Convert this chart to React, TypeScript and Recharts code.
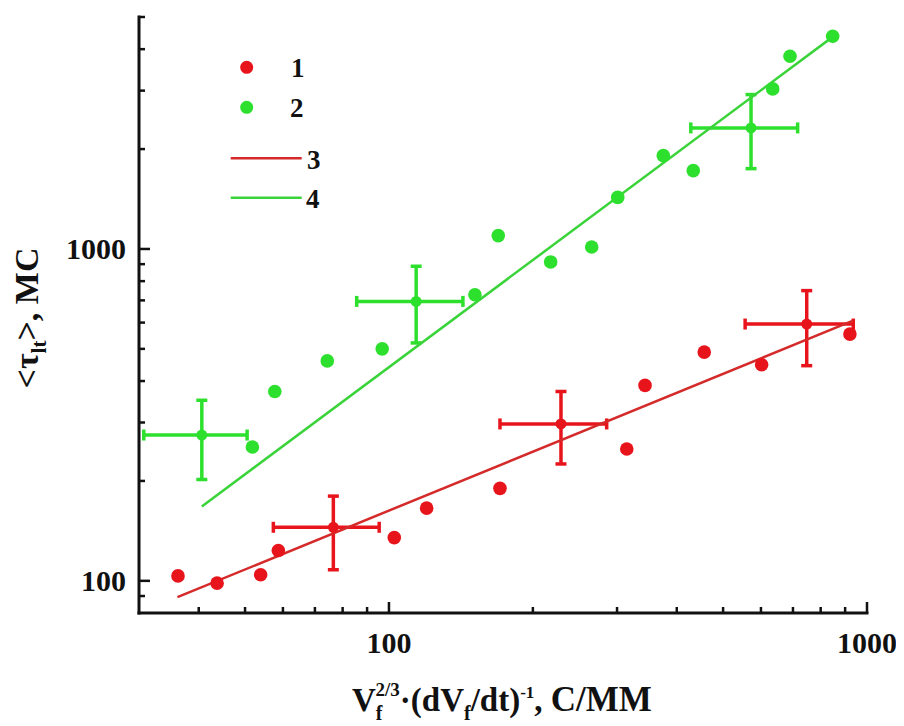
import React from 'react';
import { ScatterChart, Scatter, XAxis, YAxis, ErrorBar, Legend } from 'recharts';

// series 1 (red) and 2 (green), points without error bars
const redX = [36.2, 43.7, 53.9, 58.7, 102.6, 119.9, 170.7, 314.4, 343.3, 456.6, 602, 921];
const redY = [103.5, 98.4, 104.3, 123.4, 135, 165.6, 190, 249.5, 388, 489, 448, 554];
const greenX = [51.8, 57.7, 74.3, 96.8, 151.3, 169.3, 217.9, 265.5, 301, 374.9, 433.1, 634.9, 690.2, 847.6];
const greenY = [253, 372, 460, 500, 728, 1097, 914, 1014, 1430, 1911, 1722, 3036, 3807, 4375];

// points with error bars: centre, lower and upper bounds
const redErrX = [76.5, 229, 748];
const redErrXLow = [57.3, 170.7, 556];
const redErrXHigh = [95.4, 285.4, 936];
const redErrY = [145, 297, 594];
const redErrYLow = [108, 225, 445];
const redErrYHigh = [180, 372, 749];

const greenErrX = [40.6, 114, 572];
const greenErrXLow = [30.7, 85.6, 428];
const greenErrXHigh = [50.5, 142.8, 716];
const greenErrY = [275, 695, 2316];
const greenErrYLow = [202, 521, 1746];
const greenErrYHigh = [350, 887, 2919];

// fitted lines 3 and 4 (end points)
const fit3X = [36.1, 935];
const fit3Y = [89.3, 608];
const fit4X = [40.6, 847.6];
const fit4Y = [167.5, 4356];

const xTicks = [40, 50, 60, 70, 80, 90, 100, 200, 300, 400, 500, 600, 700, 800, 900, 1000];
const yTicks = [90, 100, 200, 300, 400, 500, 600, 700, 800, 900, 1000, 2000, 3000, 4000, 5000];
const labelledTicks = [100, 1000];
const legendLabels = ['1', '2', '3', '4'];

const RED = '#e8141c';
const RED_LINE = '#d42a2a';
const GREEN = '#2ee02e';
const GREEN_LINE = '#3ad43a';
const AXIS = '#111';
const FONT = '"Times New Roman", "Liberation Serif", serif';

const toPoints = (xs: number[], ys: number[]) => xs.map((x, i) => ({ x, y: ys[i] }));

const toErrPoints = (
  xs: number[], xLo: number[], xHi: number[],
  ys: number[], yLo: number[], yHi: number[]
) =>
  xs.map((x, i) => ({
    x,
    y: ys[i],
    ex: [x - xLo[i], xHi[i] - x],
    ey: [ys[i] - yLo[i], yHi[i] - ys[i]],
  }));

const redPoints = toPoints(redX, redY);
const greenPoints = toPoints(greenX, greenY);
const redErrPoints = toErrPoints(redErrX, redErrXLow, redErrXHigh, redErrY, redErrYLow, redErrYHigh);
const greenErrPoints = toErrPoints(greenErrX, greenErrXLow, greenErrXHigh, greenErrY, greenErrYLow, greenErrYHigh);
const fit3 = toPoints(fit3X, fit3Y);
const fit4 = toPoints(fit4X, fit4Y);

const dot = (r: number, color: string) => (p: any) => (
  <circle cx={p.cx} cy={p.cy} r={r} fill={color} />
);

const noShape = () => <g />;

const XTick = (p: any) => {
  const v = p.payload.value;
  const major = labelledTicks.includes(v);
  return (
    <g>
      <line x1={p.x} x2={p.x} y1={p.y} y2={p.y - (major ? 11 : 6)} stroke={AXIS} strokeWidth={2.5} />
      {major && (
        <text x={p.x} y={p.y + 40} textAnchor="middle" fontFamily={FONT} fontWeight="bold" fontSize={30} fill="#111">
          {v}
        </text>
      )}
    </g>
  );
};

const YTick = (p: any) => {
  const v = p.payload.value;
  const major = labelledTicks.includes(v);
  return (
    <g>
      <line x1={p.x} x2={p.x + (major ? 11 : 6)} y1={p.y} y2={p.y} stroke={AXIS} strokeWidth={2.5} />
      {major && (
        <text x={p.x - 13} y={p.y + 10} textAnchor="end" fontFamily={FONT} fontWeight="bold" fontSize={30} fill="#111">
          {v}
        </text>
      )}
    </g>
  );
};

// V_f^{2/3}·(dV_f/dt)^-1, С/ММ
const XLabel = (props: any) => {
  const vb = props.viewBox;
  return (
    <text x={vb.x + 213} y={vb.y + 98} fontFamily={FONT} fontWeight="bold" fontSize={33} fill="#111">
      <tspan>V</tspan>
      <tspan fontSize={20} dy={9}>f</tspan>
      <tspan fontSize={19} dx={-7} dy={-24}>2/3</tspan>
      <tspan fontSize={33} dy={15}>·(dV</tspan>
      <tspan fontSize={20} dy={9}>f</tspan>
      <tspan fontSize={33} dy={-9}>/dt)</tspan>
      <tspan fontSize={17} dy={-13}>-1</tspan>
      <tspan fontSize={33} dy={13}>, </tspan>
      <tspan fontSize={35}>С/ММ</tspan>
    </text>
  );
};

const YLabel = (props: any) => {
  const vb = props.viewBox;
  const cx = 30;
  const cy = vb.y + 301;
  return (
    <text
      x={cx}
      y={cy}
      textAnchor="middle"
      transform={`rotate(-90, ${cx}, ${cy})`}
      fontFamily={FONT}
      fontWeight="bold"
      fontSize={34}
      fill="#111"
    >
      <tspan>&lt;τ</tspan>
      <tspan fontSize={21} dy={8}>lt</tspan>
      <tspan dy={-8}>&gt;, МС</tspan>
    </text>
  );
};

const LegendBox = () => (
  <svg width={130} height={175}>
    <circle cx={26.7} cy={17.3} r={6.5} fill={RED} />
    <circle cx={26.7} cy={57.3} r={6.5} fill={GREEN} />
    <line x1={10.7} x2={81.7} y1={108.3} y2={108.3} stroke={RED_LINE} strokeWidth={2.5} />
    <line x1={10.7} x2={81.7} y1={147.7} y2={147.7} stroke={GREEN_LINE} strokeWidth={2.5} />
    <g fontFamily={FONT} fontWeight="bold" fontSize={27} fill="#111">
      <text x={71} y={27}>{legendLabels[0]}</text>
      <text x={70} y={67}>{legendLabels[1]}</text>
      <text x={87} y={119}>{legendLabels[2]}</text>
      <text x={86} y={158}>{legendLabels[3]}</text>
    </g>
  </svg>
);

export default function App() {
  return (
    <div style={{ background: '#fff' }}>
      <ScatterChart width={888} height={718} margin={{ top: 9, right: 29, bottom: 0, left: 0 }}>
        <XAxis
          type="number"
          dataKey="x"
          scale="log"
          domain={[30, 1000]}
          allowDataOverflow
          ticks={xTicks}
          interval={0}
          height={113}
          tickSize={0}
          tickMargin={0}
          tickLine={false}
          tick={XTick}
          axisLine={{ stroke: AXIS, strokeWidth: 3, strokeLinecap: 'square' }}
          label={{ content: XLabel }}
        />
        <YAxis
          type="number"
          dataKey="y"
          scale="log"
          domain={[80, 5000]}
          allowDataOverflow
          ticks={yTicks}
          interval={0}
          width={131}
          tickSize={0}
          tickMargin={0}
          tickLine={false}
          tick={YTick}
          axisLine={{ stroke: AXIS, strokeWidth: 3, strokeLinecap: 'square' }}
          label={{ content: YLabel }}
        />
        <Legend
          layout="vertical"
          align="center"
          verticalAlign="middle"
          wrapperStyle={{ left: 212, top: 42, width: 130, height: 175 }}
          content={LegendBox}
        />
        <Scatter data={fit3} line={{ stroke: RED_LINE, strokeWidth: 2.5 }} lineType="joint" shape={noShape} isAnimationActive={false} />
        <Scatter data={fit4} line={{ stroke: GREEN_LINE, strokeWidth: 2.5 }} lineType="joint" shape={noShape} isAnimationActive={false} />
        <Scatter data={redPoints} shape={dot(6.8, RED)} isAnimationActive={false} />
        <Scatter data={greenPoints} shape={dot(6.8, GREEN)} isAnimationActive={false} />
        <Scatter data={redErrPoints} shape={dot(5.5, RED)} isAnimationActive={false}>
          <ErrorBar dataKey="ex" direction="x" width={5.5} stroke={RED} strokeWidth={3.5} isAnimationActive={false} />
          <ErrorBar dataKey="ey" direction="y" width={5.5} stroke={RED} strokeWidth={3.5} isAnimationActive={false} />
        </Scatter>
        <Scatter data={greenErrPoints} shape={dot(5.5, GREEN)} isAnimationActive={false}>
          <ErrorBar dataKey="ex" direction="x" width={5.5} stroke={GREEN} strokeWidth={3.5} isAnimationActive={false} />
          <ErrorBar dataKey="ey" direction="y" width={5.5} stroke={GREEN} strokeWidth={3.5} isAnimationActive={false} />
        </Scatter>
      </ScatterChart>
    </div>
  );
}
